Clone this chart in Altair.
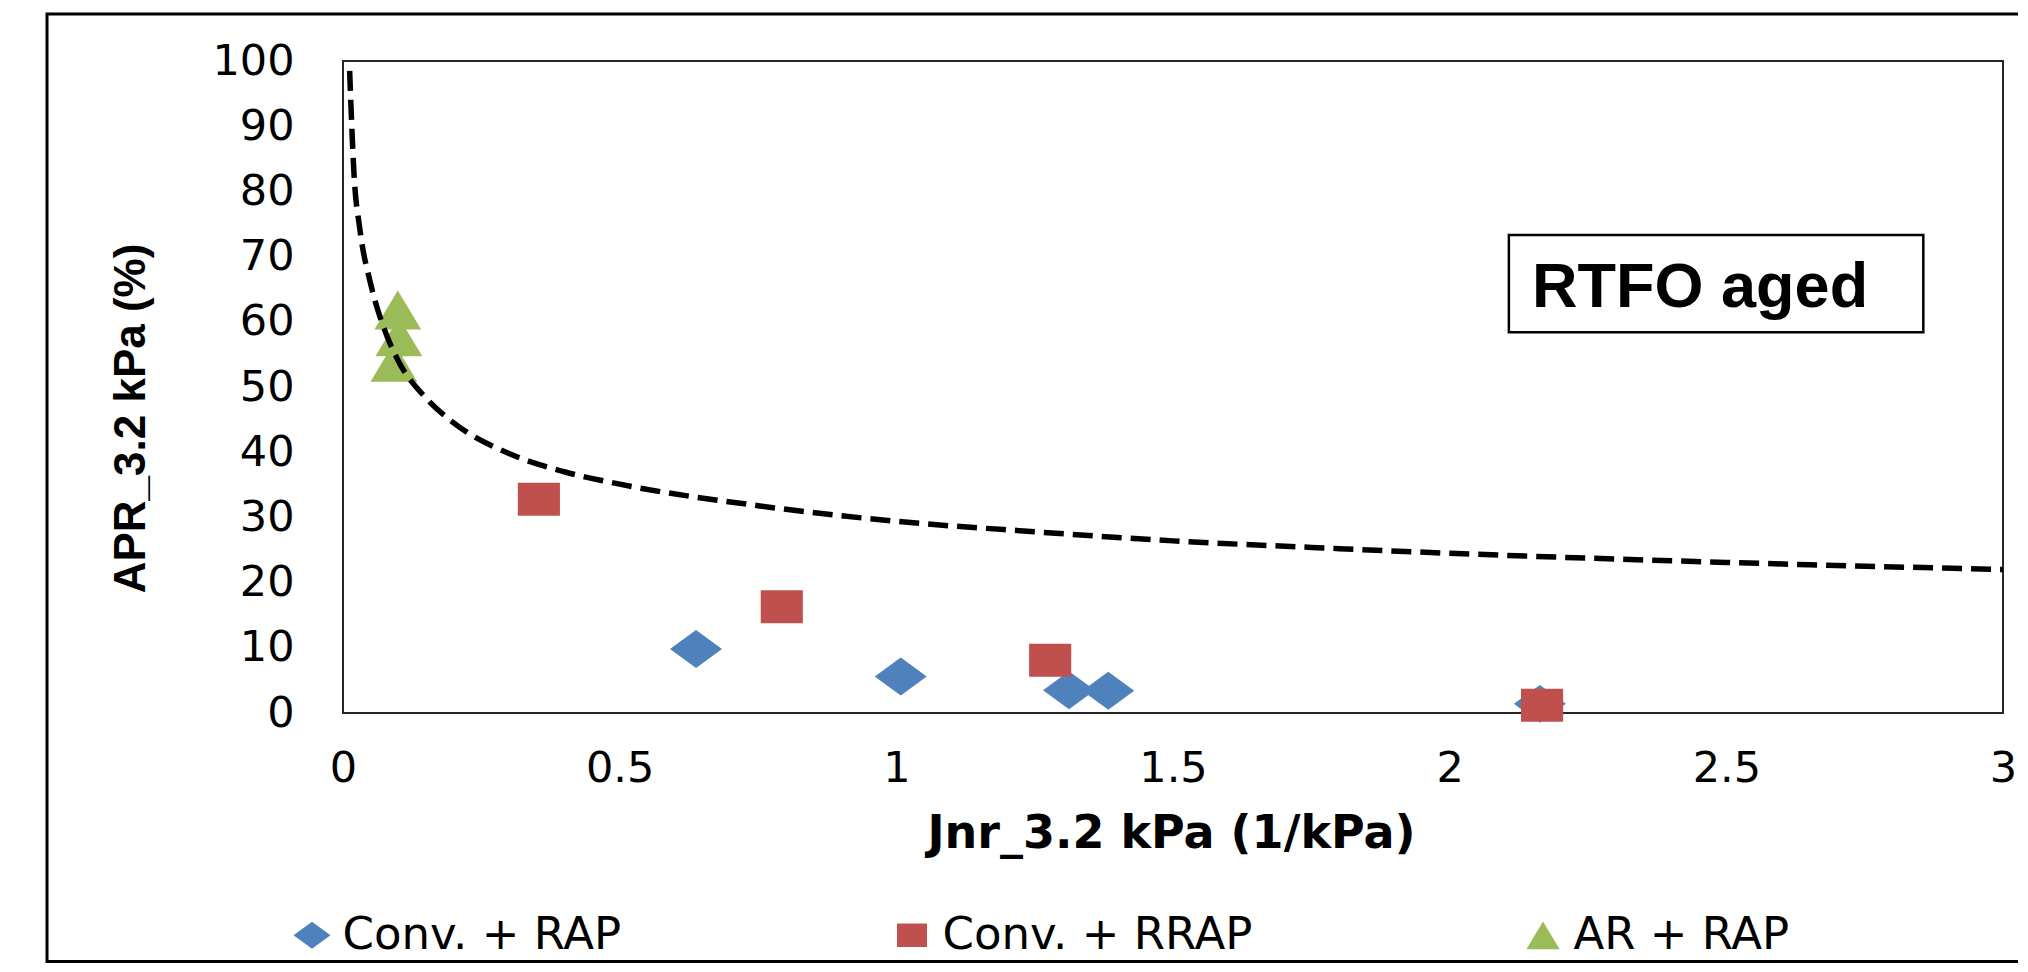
import altair as alt
import pandas as pd

# ---- data ----
series_names = ["Conv. + RAP", "Conv. + RRAP", "AR + RAP"]
series_colors = ["#4F81BD", "#C0504D", "#9BBB59"]

conv_rap_jnr = [0.638, 1.008, 1.312, 1.383, 2.163]
conv_rap_apr = [9.8, 5.6, 3.5, 3.4, 1.4]

conv_rrap_jnr = [0.354, 0.793, 1.278, 2.167]
conv_rrap_apr = [32.8, 16.3, 8.1, 1.2]

ar_rap_jnr = [0.099, 0.101, 0.092]
ar_rap_apr = [61.8, 57.7, 53.8]

curve_jnr = [0.012, 0.02, 0.03, 0.05, 0.075, 0.1, 0.15, 0.2, 0.3, 0.4, 0.5,
             0.75, 1.0, 1.25, 1.5, 1.75, 2.0, 2.5, 3.0]
curve_apr = [98.5, 82.5, 74.5, 65.8, 58.8, 54.0, 48.3, 44.5, 39.8, 37.0, 35.1,
             31.8, 29.4, 27.8, 26.4, 25.4, 24.5, 23.1, 22.0]

x_ticks = [0, 0.5, 1, 1.5, 2, 2.5, 3]
y_ticks = [0, 10, 20, 30, 40, 50, 60, 70, 80, 90, 100]

note_text = ["RTFO aged"]
note_box_x = [2.107, 2.856]
note_box_y = [73.3, 58.4]
note_text_pos = [2.149, 62.3]

# marker shapes (wider than tall, as in the picture)
shape_paths = [
    "M-1,0L0,-0.73L1,0L0,0.73Z",
    "M-0.81,-0.635L0.81,-0.635L0.81,0.635L-0.81,0.635Z",
    "M0,-0.75L0.9,0.75L-0.9,0.75Z",
]

rows = []
for name, xs, ys in zip(series_names,
                        [conv_rap_jnr, conv_rrap_jnr, ar_rap_jnr],
                        [conv_rap_apr, conv_rrap_apr, ar_rap_apr]):
    for xv, yv in zip(xs, ys):
        rows.append({"series": name, "jnr": xv, "apr": yv})
points_df = pd.DataFrame(rows)
curve_df = pd.DataFrame({"jnr": curve_jnr, "apr": curve_apr})
box_df = pd.DataFrame({"x": [note_box_x[0]], "x2": [note_box_x[1]],
                       "y": [note_box_y[0]], "y2": [note_box_y[1]]})
text_df = pd.DataFrame({"x": [note_text_pos[0]], "y": [note_text_pos[1]], "t": note_text})

x_scale = alt.Scale(domain=[0, 3], nice=False, zero=False)
y_scale = alt.Scale(domain=[0, 100], nice=False)

x_axis = alt.Axis(
    values=x_ticks, format="~g", title="Jnr_3.2 kPa (1/kPa)", grid=False,
    ticks=False, tickSize=0, domain=False, labelFont="DejaVu Sans",
    labelFontSize=43, labelColor="black", labelPadding=34, labelFlush=False,
    labelOverlap=False, titleFont="DejaVu Sans", titleFontSize=46,
    titleFontWeight="bold", titleColor="black", titleX=828, titleY=134,
    titleAlign="center", titleBaseline="alphabetic",
)
y_axis = alt.Axis(
    values=y_ticks, title="APR_3.2 kPa (%)", grid=False, ticks=False,
    tickSize=0, domain=False, labelFont="DejaVu Sans", labelFontSize=43,
    labelColor="black", labelPadding=49, labelFlush=False, labelOverlap=False,
    titleFont="Liberation Sans", titleFontSize=44, titleFontWeight="bold",
    titleColor="black", titleAngle=270, titleX=-212, titleY=357,
    titleAlign="center", titleBaseline="middle",
)

legend = alt.Legend(
    orient="none", legendX=-53.5, legendY=851.5, direction="horizontal",
    title=None, labelFont="DejaVu Sans", labelFontSize=45, labelColor="black",
    symbolSize=1369, symbolStrokeWidth=0, columnPadding=268, labelOffset=8,
    padding=0, labelLimit=0,
)

outer = alt.Chart(pd.DataFrame({"k": [0]})).mark_rect(
    fill=None, stroke="black", strokeWidth=3
).encode(
    x=alt.value(-296), x2=alt.value(1800),
    y=alt.value(-47), y2=alt.value(900.5),
)

curve = alt.Chart(curve_df).mark_line(
    color="black", strokeWidth=5.5, strokeDash=[20, 9], interpolate="monotone"
).encode(
    x=alt.X("jnr:Q", scale=x_scale, axis=x_axis),
    y=alt.Y("apr:Q", scale=y_scale, axis=y_axis),
)

points = alt.Chart(points_df).mark_point(
    filled=True, opacity=1, size=2704, strokeWidth=0
).encode(
    x=alt.X("jnr:Q", scale=x_scale, axis=x_axis),
    y=alt.Y("apr:Q", scale=y_scale, axis=y_axis),
    color=alt.Color("series:N", scale=alt.Scale(domain=series_names, range=series_colors), legend=legend),
    shape=alt.Shape("series:N", scale=alt.Scale(domain=series_names, range=shape_paths), legend=legend),
)

box = alt.Chart(box_df).mark_rect(
    fill="white", stroke="black", strokeWidth=2.5
).encode(
    x=alt.X("x:Q", scale=x_scale), x2="x2:Q",
    y=alt.Y("y:Q", scale=y_scale), y2="y2:Q",
)

label = alt.Chart(text_df).mark_text(
    font="Liberation Sans", fontSize=63, fontWeight="bold", color="black",
    align="left", baseline="alphabetic"
).encode(
    x=alt.X("x:Q", scale=x_scale), y=alt.Y("y:Q", scale=y_scale), text="t:N"
)

chart = alt.layer(outer, points, curve, box, label).properties(
    width=1660, height=652,
    padding={"left": 335, "top": 53, "right": 15, "bottom": 251},
    autosize=alt.AutoSizeParams(type="none"),
    background="white",
).configure_view(stroke="#262626", strokeWidth=2)

chart.save("out.html", embed_options={"renderer": "svg", "actions": False})
